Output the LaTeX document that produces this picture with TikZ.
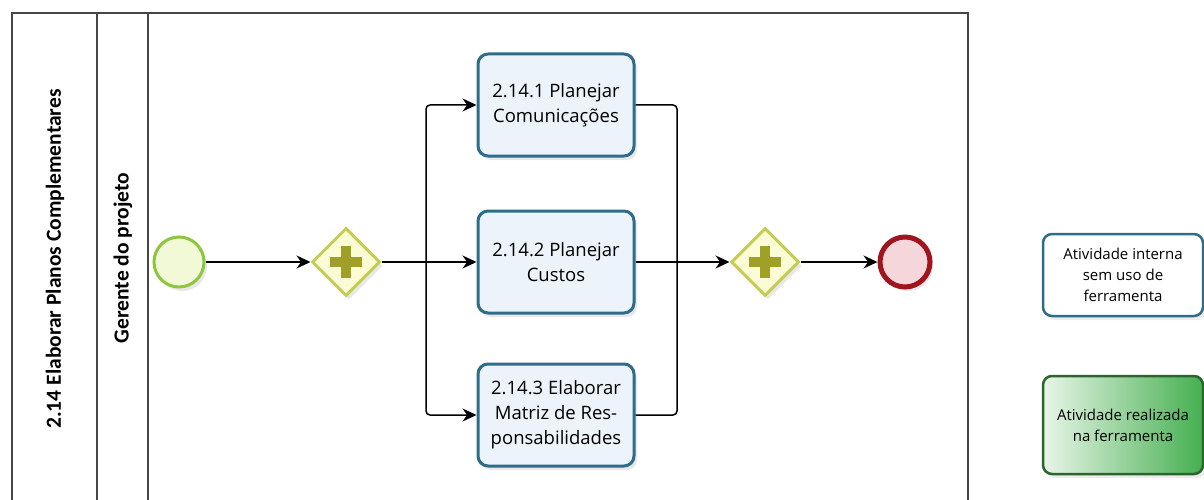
\documentclass[tikz,border=0pt]{standalone}
\usepackage{fontspec}
\setmainfont{Open Sans}
\newfontfamily\lanefont{Carlito}
\usetikzlibrary{%
        arrows.meta,
        shapes.geometric,
        shadows
    }
\definecolor{taskborder}{RGB}{47, 108, 138}
\definecolor{taskfill}{RGB}{236, 243, 251}
\definecolor{startborder}{RGB}{141, 198, 63}
\definecolor{startfill}{RGB}{241, 249, 214}
\definecolor{gateborder}{RGB}{196, 204, 84}
\definecolor{gatefill}{RGB}{251, 252, 214}
\definecolor{plusolive}{RGB}{160, 160, 40}
\definecolor{endborder}{RGB}{160, 20, 30}
\definecolor{endfill}{RGB}{245, 214, 218}
\definecolor{toolborder}{RGB}{45, 100, 45}
\definecolor{toollight}{RGB}{232, 245, 232}
\definecolor{tooldark}{RGB}{70, 175, 80}
\definecolor{poolgray}{RGB}{70, 70, 70}
\tikzset{%
    poolline/.style={poolgray, line width=1.5pt},
    lanelabel/.style={rotate=90, font=\lanefont\bfseries\fontsize{21.5}{24}\selectfont},
    task/.style={draw=taskborder, line width=3pt, rounded corners=10pt,
        fill=taskfill, minimum width=156pt, minimum height=102pt,
        align=center, font=\fontsize{18.5}{25}\selectfont,
        drop shadow={shadow xshift=3pt, shadow yshift=-4pt, opacity=0.18}},
    legendbox/.style={line width=2.5pt, rounded corners=9pt,
        minimum width=160pt, align=center,
        font=\fontsize{15}{21}\selectfont,
        drop shadow={shadow xshift=3pt, shadow yshift=-4pt, opacity=0.15}},
    gateway/.style={diamond, aspect=1, draw=gateborder, line width=3pt,
        fill=gatefill, minimum size=68pt, inner sep=0pt,
        drop shadow={shadow xshift=3pt, shadow yshift=-4pt, opacity=0.18}},
    flow/.style={line width=1.5pt, rounded corners=4pt,
        -{Stealth[length=14pt, width=13pt]}},
    plainflow/.style={line width=1.5pt, rounded corners=4pt},
    plussign/.pic={%
        code{%
            \fill[plusolive] (-16, -5) rectangle (16, 5);
            \fill[plusolive] (-5, -16) rectangle (5, 16);
        }
    }
}

\begin{document}
\begin{tikzpicture}[x=1pt, y=-1pt]

    \useasboundingbox (0, 0) rectangle (1204, 500);

    % Pool and lane
    \draw[poolline] (12, 500) |- (968, 13) -- (968, 500);
    \draw[poolline] (97, 13) -- (97, 500);
    \draw[poolline] (148, 13) -- (148, 500);

    \node[lanelabel] (pool) at (55, 259) {2.14 Elaborar Planos Complementares};
    \node[lanelabel] (lane) at (123, 258) {Gerente do projeto};

    % Events and gateways
    \node[circle, draw=startborder, fill=startfill, line width=3pt,
          minimum size=50pt, drop shadow={shadow xshift=3pt, shadow yshift=-4pt, opacity=0.18}]
        (start) at (179, 262) {};
    \node[gateway] (fork) at (346, 262) {};
    \path (346, 262) pic {plussign};

    \node[gateway] (join) at (765, 262) {};
    \path (765, 262) pic {plussign};
    \node[circle, draw=endborder, fill=endfill, line width=5pt,
          minimum size=50pt, drop shadow={shadow xshift=3pt, shadow yshift=-4pt, opacity=0.18}]
        (finish) at (905, 262) {};

    % Tasks
    \node[task] (plan1) at (556, 105) {2.14.1 Planejar\\Comunicações};
    \node[task] (plan2) at (556, 262) {2.14.2 Planejar\\Custos};
    \node[task] (plan3) at (556, 415) {2.14.3 Elaborar\\Matriz de Res-\\ponsabilidades};

    % Legend
    \node[legendbox, draw=taskborder, fill=white, minimum height=82pt]
        (legend1) at (1123, 275) {Atividade interna\\sem uso de\\ferramenta};
    \node[legendbox, draw=toolborder, left color=toollight, right color=tooldark,
          minimum height=98pt]
        (legend2) at (1123, 425) {Atividade realizada\\na ferramenta};

    % Sequence flows
    \coordinate (split) at (426, 262);
    \coordinate (merge) at (677, 262);

    \draw[flow] (start) -- (fork);
    \draw[flow] (fork) -- (plan2);
    \draw[flow] (split) |- (plan1);
    \draw[flow] (split) |- (plan3);

    \draw[plainflow] (plan1) -| (merge);
    \draw[plainflow] (plan3) -| (merge);
    \draw[flow] (plan2) -- (join);
    \draw[flow] (join) -- (finish);

\end{tikzpicture}
\end{document}
